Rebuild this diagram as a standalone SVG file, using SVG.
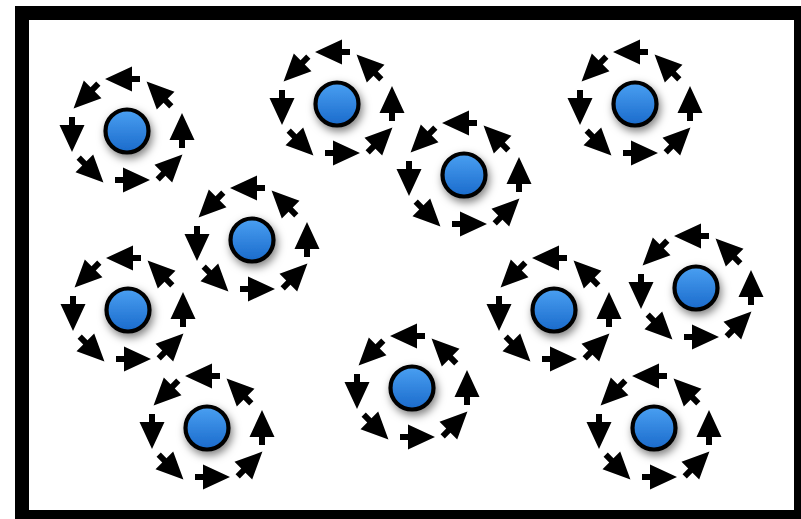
<svg xmlns="http://www.w3.org/2000/svg" xmlns:xlink="http://www.w3.org/1999/xlink" width="801" height="519" viewBox="0 0 801 519">
  <style>
    .frame { fill: #ffffff; stroke: #000000; stroke-width: 14; }
    .arrow { fill: #000000; }
    .core { fill: url(#blue); stroke: #000000; stroke-width: 4.2; filter: url(#shadow); }
  </style>
  <defs>
    <linearGradient id="blue" x1="0" y1="0" x2="0" y2="1">
      <stop offset="0" stop-color="#4aa0f2"/>
      <stop offset="1" stop-color="#1a6acb"/>
    </linearGradient>
    <filter id="shadow" x="-50%" y="-50%" width="200%" height="200%">
      <feDropShadow dx="2" dy="4" stdDeviation="4" flood-color="#000000" flood-opacity="0.5"/>
    </filter>
    <path id="ar" class="arrow" d="M-16,-3 L-8,-3 L-8,-12.5 L19,0 L-8,12.5 L-8,3 L-16,3 Z"/>
    <g id="ring">
      <use xlink:href="#ar" transform="translate(-3,-52) rotate(180)"/>
      <use xlink:href="#ar" transform="translate(-40,-36) rotate(135)"/>
      <use xlink:href="#ar" transform="translate(-55,2) rotate(90)"/>
      <use xlink:href="#ar" transform="translate(-37,38) rotate(45)"/>
      <use xlink:href="#ar" transform="translate(4,49)"/>
      <use xlink:href="#ar" transform="translate(42,37) rotate(-45)"/>
      <use xlink:href="#ar" transform="translate(55,1) rotate(-90)"/>
      <use xlink:href="#ar" transform="translate(33,-36) rotate(-135)"/>
    </g>
    <g id="particle">
      <use xlink:href="#ring"/>
      <circle class="core" cx="0" cy="0" r="21.5"/>
    </g>
  </defs>
  <rect class="frame" x="22" y="13" width="779" height="504"/>
  <g id="nodes">
    <g id="p1" transform="translate(127,131)"><use xlink:href="#particle"/></g>
    <g id="p2" transform="translate(337,104)"><use xlink:href="#particle"/></g>
    <g id="p3" transform="translate(635,104)"><use xlink:href="#particle"/></g>
    <g id="p4" transform="translate(464,175)"><use xlink:href="#particle"/></g>
    <g id="p5" transform="translate(252,240)"><use xlink:href="#particle"/></g>
    <g id="p6" transform="translate(128,310)"><use xlink:href="#particle"/></g>
    <g id="p7" transform="translate(554,310)"><use xlink:href="#particle"/></g>
    <g id="p8" transform="translate(696,288)"><use xlink:href="#particle"/></g>
    <g id="p9" transform="translate(412,388)"><use xlink:href="#particle"/></g>
    <g id="p10" transform="translate(207,428)"><use xlink:href="#particle"/></g>
    <g id="p11" transform="translate(654,428)"><use xlink:href="#particle"/></g>
  </g>
  <g id="connectors"/>
</svg>
